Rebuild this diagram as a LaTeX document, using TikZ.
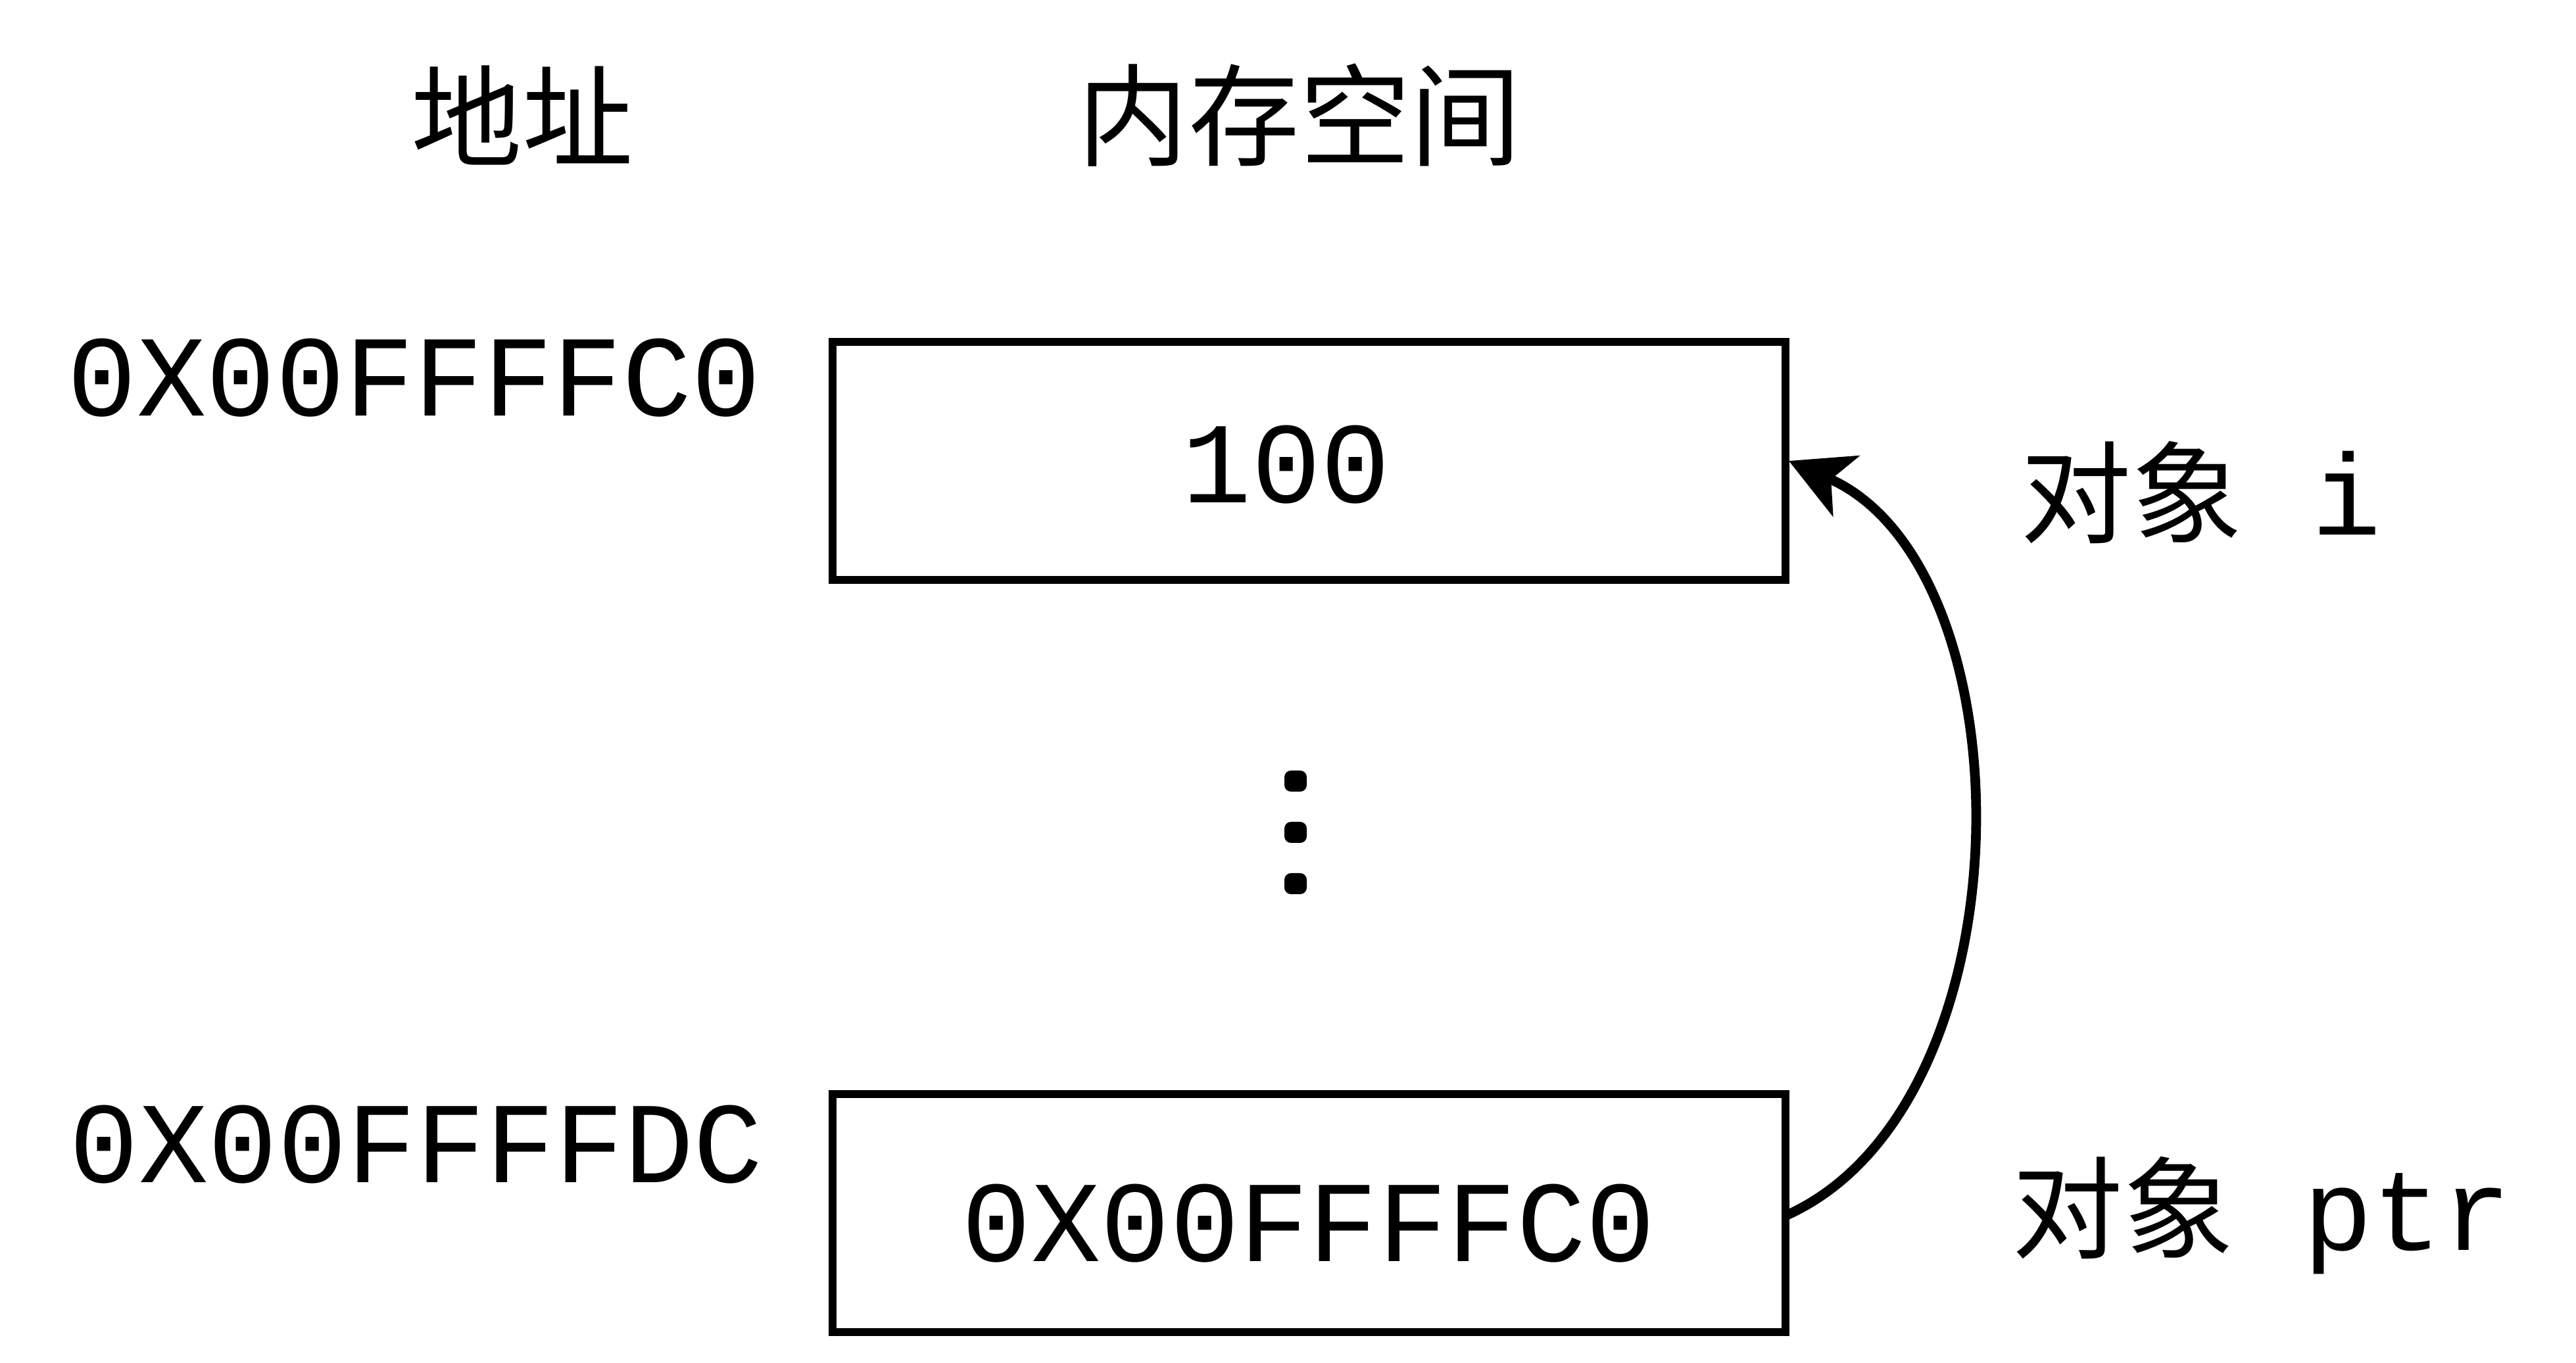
\documentclass[tikz,border=0pt]{standalone}
\usepackage{fontspec}
\newfontfamily\cjk{Noto Sans CJK SC}
\newfontfamily\mono{Liberation Mono}
\usetikzlibrary{arrows.meta}

\tikzset{
	cell/.style={draw, line width=3.4pt, minimum width=14.49cm, minimum height=3.62cm, inner sep=0pt},
	head/.style={font=\cjk\fontsize{48}{48}\selectfont},
	addr/.style={font=\mono\fontsize{50}{50}\selectfont},
	tag/.style={font=\mono\fontsize{50}{50}\selectfont, anchor=west}
}

\begin{document}
\begin{tikzpicture}

\def\width{39.17}
\def\height{20.73}
\def\ox{19.905}

\path [use as bounding box] (0,0) rectangle (\width,\height);

% TITLES
\node [head] (addrtitle) at (7.94,18.98) {地址};
\node [head] (memtitle) at (19.76,18.98) {内存空间};

% CELLS
\node [cell] (celli) at (\ox,13.72) {};
\node [cell] (cellptr) at (\ox,2.28) {};
\node [addr] (vali) at (19.56,13.66) {100};
\node [addr] (valptr) at (19.9,2.12) {0X00FFFFC0};

% ADDRESSES
\node [addr] (addri) at (6.3,14.98) {0X00FFFFC0};
\node [addr] (addrptr) at (6.33,3.32) {0X00FFFFDC};

% GAP
\foreach \y in {8.85,8.07,7.29}
	\fill [rounded corners=0.1cm] (19.7,\y) +(-0.17,-0.16) rectangle +(0.17,0.16);

% NAMES
\node [tag] (namei) at (30.6,13.24) {{\cjk\fontsize{48}{48}\selectfont 对象}\ i};
\node [tag] (nameptr) at (30.47,2.24) {{\cjk\fontsize{48}{48}\selectfont 对象}\ ptr};

% POINTER
\coordinate (from) at (27.15,2.24);
\coordinate (to) at (27.2,13.72);
\draw [line width=4.2pt, -{Stealth[length=0.95cm, width=1cm, inset=0.25cm]}]
	(from) .. controls (30.9,3.9) and (30.9,12.1) .. (to);

\end{tikzpicture}
\end{document}
